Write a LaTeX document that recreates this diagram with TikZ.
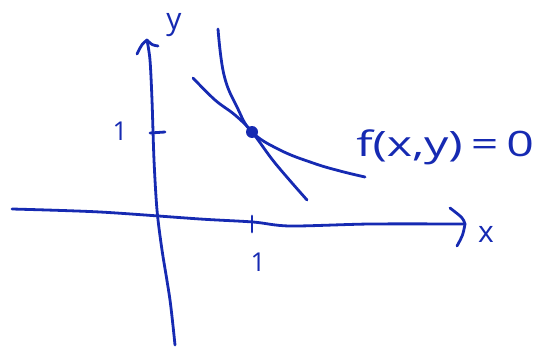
\documentclass[tikz,border=0pt]{standalone}
\usepackage{fontspec}
\setmainfont{Open Sans}
\definecolor{ink}{RGB}{22,42,178}
\begin{document}
\begin{tikzpicture}[x=1pt,y=-1pt,
  pen/.style={draw=ink,line width=2.8pt,line cap=round,line join=round},
  lbl/.style={text=ink,inner sep=0pt,font=\fontsize{30}{30}\selectfont}]
\useasboundingbox (0,0) rectangle (534,350);
% coordinates
\coordinate (xs) at (12,209);
\coordinate (xt) at (465,224);
\coordinate (yb) at (175,345);
\coordinate (yt) at (147,40);
\coordinate (P) at (252,132);
% x-axis
\draw[pen] plot[smooth,tension=0.5] coordinates {(xs) (100,212) (200,219) (253,222) (290,226) (370,224) (xt)};
\draw[pen] (450,208) .. controls (463,218) .. (xt) .. controls (463,235) .. (457,246);
% y-axis
\draw[pen] plot[smooth,tension=0.5] coordinates {(yb) (170,300) (162,250) (157,210) (154,160) (152,100) (150,60) (yt)};
\draw[pen] (137,54) .. controls (142,44) .. (yt) .. controls (152,45) .. (158,46);
% ticks
\draw[pen] (252,216) -- (252,232);
\draw[pen] (150,133) -- (165,132);
% curve f(x,y)=0
\draw[pen] plot[smooth,tension=0.7] coordinates {(218,29) (224,75) (237,107) (P) (280,150) (313,163) (340,171) (365,177)};
% tangent line
\draw[pen] plot[smooth,tension=0.6] coordinates {(193,78) (215,100) (235,115) (P) (275,163) (307,200)};
% point
\node[circle,fill=ink,inner sep=0pt,minimum size=12pt] (pt) at (P) {};
% labels
\node[lbl,line width=0.8pt,draw=none] (ylab) at (174,25) {y};
\node[lbl] (xlab) at (486,234) {x};
\node[lbl,font=\fontsize{26}{26}\selectfont] (one y) at (120,131) {1};
\node[lbl,font=\fontsize{26}{26}\selectfont] (one x) at (258,262) {1};
\node[lbl,anchor=west,xscale=1.38,font=\fontsize{35}{35}\selectfont] (flab) at (356,147) {f(x,y)\,=\,0};
\end{tikzpicture}
\end{document}
